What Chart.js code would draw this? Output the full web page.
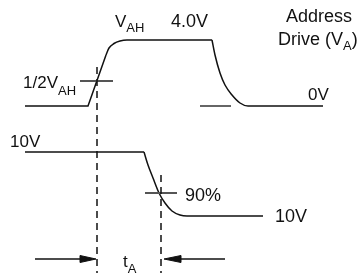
<!DOCTYPE html>
<html>
<head>
<meta charset="utf-8">
<script src="https://cdn.jsdelivr.net/npm/chart.js@4"></script>
<style>
  html, body { margin: 0; padding: 0; background: #fff; }
  #wrap { width: 361px; height: 273px; position: relative; }
</style>
</head>
<body>
<div id="wrap"><canvas id="timingChart"></canvas></div>
<script>
// Address drive (V_A) waveform, top trace
const addrRiseTime = [25, 88, 106];
const addrRiseLevel = [106, 106, 55];
const addrTopTime = [106, 109, 114, 120, 127, 212];
const addrTopLevel = [55, 48, 43.5, 41, 40, 40];
const addrFallTime = [212, 215, 220, 225, 232, 240, 248, 323];
const addrFallLevel = [40, 55, 73, 85, 95, 103, 106, 106];

// second trace (10V -> 10V)
const lowerFlatTime = [25, 144];
const lowerFlatLevel = [152, 152];
const lowerFallTime = [144, 148, 153, 159, 165, 172, 180, 187, 263];
const lowerFallLevel = [152, 165, 178, 193, 203, 211, 215, 216, 216];

// reference marks
const halfTickTime = [80, 113];
const halfTickLevel = [81, 81];
const ninetyTickTime = [145, 177];
const ninetyTickLevel = [193, 193];
const zeroRefTime = [200, 231];
const zeroRefLevel = [106, 106];

// t_A markers
const markStartTime = [97, 97];
const markStartLevel = [67, 273];
const markEndTime = [161, 161];
const markEndLevel = [175, 273];

// t_A arrows
const arrowInTime = [35, 82];
const arrowOutTime = [180, 225];
const arrowLevel = [259, 259];
const headInTime = [80, 96, 80, 80];
const headOutTime = [181, 164, 181, 181];
const headLevel = [255.5, 259, 262.5, 255.5];

// labels: text, subscript, x, baseline
const labelText = ['1/2V', 'V', '4.0V', 'Address', 'Drive (V', '0V', '10V', '90%', '10V', 't'];
const labelSub = ['AH', 'AH', '', '', 'A', '', '', '', '', 'A'];
const labelAfter = ['', '', '', '', ')', '', '', '', '', ''];
const labelX = [23, 115, 171, 286, 278, 308, 10, 185, 275, 123];
const labelY = [88, 27, 27, 22, 45, 100, 147, 201, 222, 267];
const labelSize = [17, 17, 18, 18, 18, 17, 17, 18, 18, 17];
const labelSubDrop = [7, 5, 0, 0, 5, 0, 0, 0, 0, 6];

const toPoints = (xs, ys) => xs.map((x, i) => ({ x: x, y: ys[i] }));

const trace = (xs, ys, extra) => Object.assign({
    data: toPoints(xs, ys),
    showLine: true,
    pointRadius: 0,
    borderColor: '#111',
    borderWidth: 1.5,
    fill: false,
    clip: false,
    tension: 0
}, extra || {});

const labelPlugin = {
    id: 'labels',
    afterDatasetsDraw(chart) {
        const ctx = chart.ctx;
        const sx = chart.scales.x;
        const sy = chart.scales.y;
        ctx.save();
        ctx.fillStyle = '#111';
        ctx.textBaseline = 'alphabetic';
        ctx.textAlign = 'left';
        labelText.forEach((txt, i) => {
            let px = sx.getPixelForValue(labelX[i]);
            const py = sy.getPixelForValue(labelY[i]);
            const mainFont = labelSize[i] + 'px "Liberation Sans", Arial, sans-serif';
            ctx.font = mainFont;
            ctx.fillText(txt, px, py);
            px += ctx.measureText(txt).width;
            if (labelSub[i]) {
                ctx.font = '13px "Liberation Sans", Arial, sans-serif';
                ctx.fillText(labelSub[i], px, py + labelSubDrop[i]);
                px += ctx.measureText(labelSub[i]).width;
            }
            if (labelAfter[i]) {
                ctx.font = mainFont;
                ctx.fillText(labelAfter[i], px, py);
            }
        });
        ctx.restore();
    }
};

document.addEventListener('DOMContentLoaded', () => {
    const ctx = document.getElementById('timingChart').getContext('2d');

    new Chart(ctx, {
        type: 'scatter',
        data: {
            datasets: [
                trace(markStartTime, markStartLevel, { borderDash: [7, 5], borderWidth: 1.5 }),
                trace(markEndTime, markEndLevel, { borderDash: [7, 5], borderWidth: 1.5 }),
                trace(halfTickTime, halfTickLevel, { borderColor: '#555', borderWidth: 2 }),
                trace(ninetyTickTime, ninetyTickLevel, { borderColor: '#555', borderWidth: 2 }),
                trace(zeroRefTime, zeroRefLevel, { borderColor: '#666', borderWidth: 2 }),
                trace(addrRiseTime, addrRiseLevel),
                trace(addrTopTime, addrTopLevel, { cubicInterpolationMode: 'monotone' }),
                trace(addrFallTime, addrFallLevel, { cubicInterpolationMode: 'monotone' }),
                trace(lowerFlatTime, lowerFlatLevel),
                trace(lowerFallTime, lowerFallLevel, { cubicInterpolationMode: 'monotone' }),
                trace(arrowInTime, arrowLevel),
                trace(arrowOutTime, arrowLevel),
                trace(headInTime, headLevel, { fill: 'shape', backgroundColor: '#111', borderWidth: 1 }),
                trace(headOutTime, headLevel, { fill: 'shape', backgroundColor: '#111', borderWidth: 1 })
            ]
        },
        options: {
            responsive: true,
            maintainAspectRatio: false,
            animation: false,
            layout: { padding: 0 },
            plugins: {
                legend: { display: false },
                tooltip: { enabled: false }
            },
            scales: {
                x: { type: 'linear', min: 0, max: 361, display: false },
                y: { type: 'linear', min: 0, max: 273, reverse: true, display: false }
            }
        },
        plugins: [labelPlugin]
    });
});
</script>
</body>
</html>
